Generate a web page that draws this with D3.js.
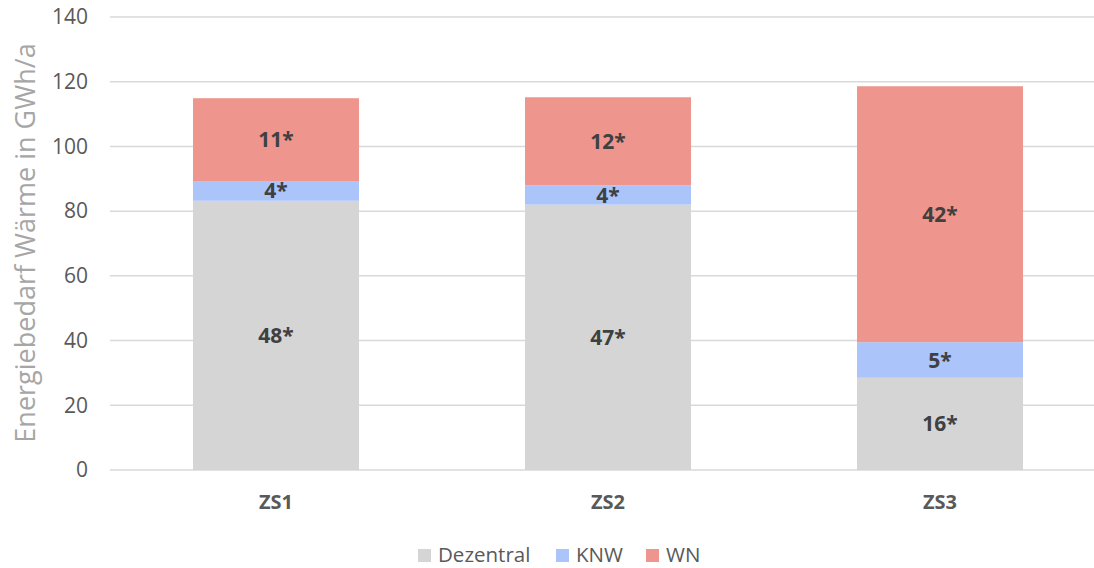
<!DOCTYPE html>
<html>
<head>
<meta charset="utf-8">
<script src="https://cdn.jsdelivr.net/npm/d3@7"></script>
<style>
  html, body { margin: 0; padding: 0; background: #fff; }
  svg { display: block; font-family: "Open Sans", "Noto Sans", sans-serif; }
</style>
</head>
<body>
<svg id="chart" width="1094" height="568"></svg>
<script>
// Scenarios on the x axis
const scenarios = ["ZS1", "ZS2", "ZS3"];
// Stack order, bottom to top
const seriesNames = ["Dezentral", "KNW", "WN"];
// Heat demand per supply type, GWh/a
const dezentral = [83.2, 82.0, 28.5];
const knw = [6.1, 6.0, 11.0];
const wn = [25.6, 27.2, 79.1];
// Count labels printed inside each segment
const dezentralLabels = ["48*", "47*", "16*"];
const knwLabels = ["4*", "4*", "5*"];
const wnLabels = ["11*", "12*", "42*"];
// Y axis ticks
const yTicks = [0, 20, 40, 60, 80, 100, 120, 140];

const colors = { Dezentral: "#d5d5d5", KNW: "#abc5fb", WN: "#ee958d" };

const rows = scenarios.map((s, i) => ({
  scenario: s,
  Dezentral: dezentral[i], KNW: knw[i], WN: wn[i],
  labels: { Dezentral: dezentralLabels[i], KNW: knwLabels[i], WN: wnLabels[i] }
}));

const svg = d3.select("#chart");
const plot = { left: 110, right: 1106, top: 17, bottom: 470 };

const x = d3.scaleBand().domain(scenarios).range([plot.left, plot.right]).paddingInner(0.5).paddingOuter(0.25);
const y = d3.scaleLinear().domain([0, 140]).range([plot.bottom, plot.top]);

// Horizontal gridlines
svg.append("g")
  .selectAll("line")
  .data(yTicks)
  .join("line")
  .attr("x1", plot.left).attr("x2", 1094)
  .attr("y1", d => y(d)).attr("y2", d => y(d))
  .attr("stroke", "#d9d9d9").attr("stroke-width", 1.5);

// Y axis tick labels
const yAxis = svg.append("g")
  .attr("transform", `translate(${plot.left - 22},0)`)
  .call(d3.axisLeft(y).tickValues(yTicks).tickSize(0).tickPadding(0));
yAxis.select(".domain").remove();
yAxis.selectAll("text")
  .attr("font-size", 21).attr("fill", "#595959")
  .attr("font-family", "Open Sans, sans-serif");

// Y axis title
svg.append("text")
  .attr("transform", "translate(35,243) rotate(-90)")
  .attr("text-anchor", "middle")
  .attr("font-size", 27).attr("fill", "#a6a6a6")
  .text("Energiebedarf Wärme in GWh/a");

// Stacked bars
const stack = d3.stack().keys(seriesNames)(rows);
const layers = svg.append("g")
  .selectAll("g")
  .data(stack)
  .join("g")
  .attr("fill", d => colors[d.key]);

layers.selectAll("rect")
  .data(d => d.map(v => ({ key: d.key, v })))
  .join("rect")
  .attr("x", d => x(d.v.data.scenario))
  .attr("width", x.bandwidth())
  .attr("y", d => y(d.v[1]))
  .attr("height", d => y(d.v[0]) - y(d.v[1]));

// Segment labels
layers.selectAll("text")
  .data(d => d.map(v => ({ key: d.key, v })))
  .join("text")
  .attr("x", d => x(d.v.data.scenario) + x.bandwidth() / 2)
  .attr("y", d => (y(d.v[0]) + y(d.v[1])) / 2)
  .attr("dy", "0.36em")
  .attr("text-anchor", "middle")
  .attr("font-size", 21).attr("font-weight", "bold")
  .attr("fill", "#404040")
  .text(d => d.v.data.labels[d.key]);

// X axis labels
const xAxis = svg.append("g")
  .attr("transform", `translate(0,${plot.bottom + 32})`)
  .call(d3.axisBottom(x).tickSize(0).tickPadding(0));
xAxis.select(".domain").remove();
xAxis.selectAll("text")
  .attr("dy", "0.36em")
  .attr("font-size", 20).attr("font-weight", "bold").attr("fill", "#595959")
  .attr("font-family", "Open Sans, sans-serif");

// Legend
const legendItems = [
  { name: "Dezentral", x: 418 },
  { name: "KNW", x: 556 },
  { name: "WN", x: 646 }
];
const legend = svg.append("g").attr("transform", "translate(0,555)");
const li = legend.selectAll("g").data(legendItems).join("g")
  .attr("transform", d => `translate(${d.x},0)`);
li.append("rect")
  .attr("x", 0).attr("y", -6).attr("width", 13).attr("height", 13)
  .attr("fill", d => colors[d.name]);
li.append("text")
  .attr("x", 20).attr("dy", "0.34em")
  .attr("font-size", 20.5).attr("fill", "#595959")
  .text(d => d.name);
</script>
</body>
</html>
